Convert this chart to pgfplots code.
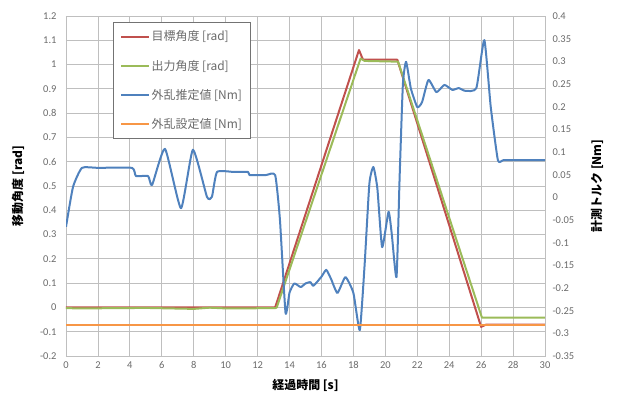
\documentclass[border=0pt]{standalone}
\usepackage{pgfplots}
\pgfplotsset{compat=1.18}
\usepackage{fontspec}
\setmainfont{Carlito}
\newfontfamily\jp{Noto Sans CJK JP}
\definecolor{cred}{HTML}{C0504D}
\definecolor{cgreen}{HTML}{9BBB59}
\definecolor{cblue}{HTML}{4F81BD}
\definecolor{corange}{HTML}{F79646}
\definecolor{cgrid}{HTML}{BFBFBF}
\definecolor{ctick}{HTML}{6A6A6A}
\begin{document}
\begin{tikzpicture}
\pgfplotsset{
  every axis/.append style={
    scale only axis, width=479bp, height=340bp,
    xmin=0, xmax=30,
    /pgf/number format/assume math mode=true,
    tick label style={font=\fontsize{10.5}{12}\selectfont, text=ctick},
    label style={font=\jp\bfseries\fontsize{12}{14}\selectfont, text=black},
    major tick length=0pt,
    axis line style={cgrid, line width=0.8bp},
  }
}
\begin{axis}[
  name=ax,
  ymin=-0.2, ymax=1.2,
  xtick={0,2,4,6,8,10,12,14,16,18,20,22,24,26,28,30},
  ytick={-0.2,-0.1,0,0.1,0.2,0.3,0.4,0.5,0.6,0.7,0.8,0.9,1,1.1,1.2},
  yticklabel style={/pgf/number format/fixed, /pgf/number format/precision=2},
  xtick pos=bottom, ytick pos=left,
  xmajorgrids, ymajorgrids,
  grid style={cgrid, line width=0.8bp},
  xlabel={経過時間 [s]},
  ylabel={移動角度 [rad]},
  xlabel style={at={(axis description cs:0.5,-0.0853)}, anchor=center},
  ylabel style={at={(axis description cs:-0.1002,0.5)}, anchor=center, rotate=0},
  xticklabel style={yshift=-2bp},
  yticklabel style={xshift=-6bp},
]
\addplot[cred, line width=2bp, line join=round] coordinates {
(0,0) (13.1,0) (18.35,1.06) (18.6,1.02) (20.75,1.02) (26.0,-0.08) (26.3,-0.071) (30,-0.071)
};
\addplot[cgreen, line width=2bp, line join=round] coordinates {
(0,-0.003) (1,-0.004) (5,-0.002) (8,-0.006) (9,-0.001) (10,-0.004) (13.1,-0.003)
(13.2,0.0) (18.45,1.025) (18.7,1.015) (20.8,1.012) (26.05,-0.042) (30,-0.042)
};
\end{axis}
\begin{axis}[
  ymin=-0.35, ymax=0.4,
  axis y line*=right, axis x line=none,
  ytick={-0.35,-0.3,-0.25,-0.2,-0.15,-0.1,-0.05,0,0.05,0.1,0.15,0.2,0.25,0.3,0.35,0.4},
  yticklabel style={/pgf/number format/fixed, /pgf/number format/precision=2, xshift=4bp},
  ylabel={計測トルク [Nm]},
  ylabel style={at={(axis description cs:1.1086,0.5)}, anchor=center, rotate=0},
  legend style={at={(0.098,0.982)}, anchor=north west, draw=black!55, line width=0.6bp,
    font=\jp\fontsize{12}{13}\selectfont, text=ctick, fill=white,
    inner xsep=7bp, inner ysep=7bp, row sep=14.5bp,
    nodes={inner sep=1.5bp}},
  legend cell align=left,
  legend image code/.code={\draw[#1] (0bp,0bp) -- (28bp,0bp);},
]
\addlegendimage{cred, line width=2bp}
\addlegendentry{目標角度 [rad]}
\addlegendimage{cgreen, line width=2bp}
\addlegendentry{出力角度 [rad]}
\addplot[cblue, line width=2bp, line join=round, smooth, tension=0.3] coordinates {
(0,-0.065) (0.44,0.023) (1.0,0.065) (2.0,0.065) (4.13,0.065) (4.38,0.047) (5.14,0.047) (5.39,0.027)
(6.2,0.107) (7.2,-0.024) (7.95,0.105) (8.83,0.001) (9.14,0.001) (9.46,0.056) (10.5,0.056) (11.4,0.056)
(11.5,0.049) (12.5,0.049) (13.1,0.049) (13.4,-0.05) (13.75,-0.255) (14.0,-0.21) (14.3,-0.19) (14.7,-0.198)
(15.0,-0.19) (15.3,-0.187) (15.5,-0.195) (16.0,-0.175) (16.3,-0.16) (16.6,-0.18) (17.0,-0.211)
(17.5,-0.176) (18.0,-0.211) (18.4,-0.293) (18.7,-0.15) (19.0,0.03) (19.25,0.067) (19.5,0.02)
(19.8,-0.11) (20.2,-0.032) (20.4,-0.08) (20.7,-0.176) (20.9,0.05) (21.1,0.25) (21.3,0.299)
(21.6,0.24) (22.0,0.199) (22.3,0.21) (22.7,0.259) (23.2,0.232) (23.7,0.248) (24.2,0.237)
(24.6,0.241) (25.0,0.235) (25.7,0.241) (26.2,0.347) (26.6,0.2) (27.05,0.082) (27.4,0.082) (28.5,0.082) (30,0.082)
};
\addlegendentry{外乱推定値 [Nm]}
\addplot[corange, line width=2bp] coordinates {(0,-0.281) (30,-0.281)};
\addlegendentry{外乱設定値 [Nm]}
\end{axis}
\pgfresetboundingbox
\path ([shift={(-66bp,-42bp)}]ax.south west) rectangle ([shift={(76bp,16bp)}]ax.north east);
\end{tikzpicture}
\end{document}
